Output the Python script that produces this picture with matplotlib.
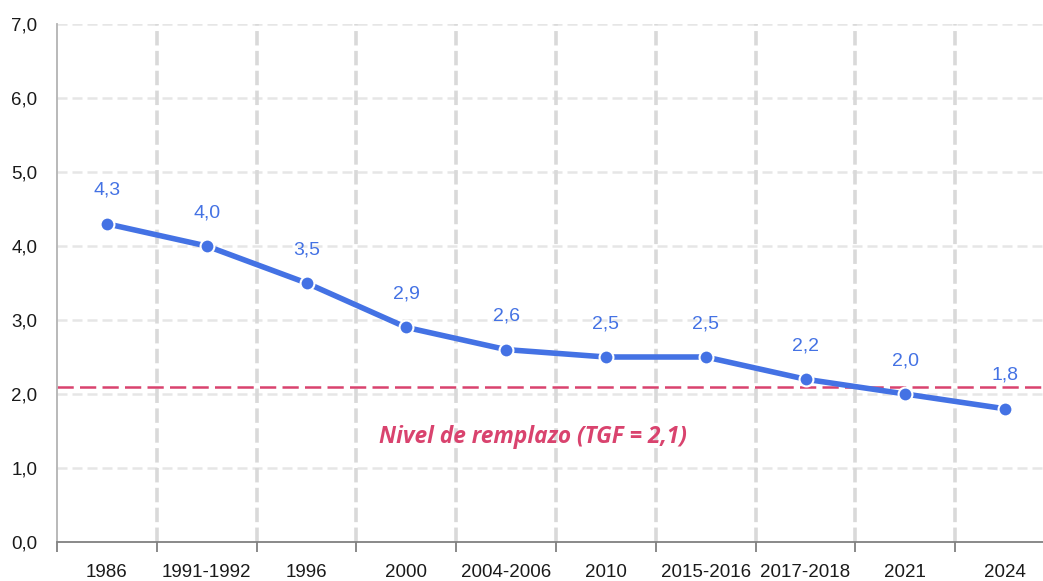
import matplotlib
matplotlib.use("Agg")
import matplotlib.pyplot as plt
import numpy as np

# data
periodos = ["1986", "1991-1992", "1996", "2000", "2004-2006", "2010",
            "2015-2016", "2017-2018", "2021", "2024"]
tgf = [4.3, 4.0, 3.5, 2.9, 2.6, 2.5, 2.5, 2.2, 2.0, 1.8]
nivel_remplazo = 2.1
y_ticks = [0, 1, 2, 3, 4, 5, 6, 7]

azul = "#4472e4"
rojo = "#d9436e"
gris = "#d9d9d9"

plt.rcParams["font.family"] = ["Liberation Sans", "DejaVu Sans"]

fig = plt.figure(figsize=(10.43, 5.81), dpi=100)
ax = fig.add_axes([57 / 1043, 1 - 542 / 581, 998 / 1043, 518 / 581])

x = np.arange(len(periodos))
ax.set_xlim(-0.5, len(periodos) - 0.5)
ax.set_ylim(0, 7)

# grid
for yv in y_ticks[1:]:
    ax.axhline(yv, color="#e6e6e6", lw=1.8, ls=(0, (4, 2)), zorder=0)
for b in np.arange(0.5, len(periodos) - 0.5, 1):
    ax.axvline(b, color=gris, lw=2.6, ls=(0, (4, 1.5)), zorder=0)

# reference line
ax.axhline(nivel_remplazo, color=rojo, lw=1.8, ls=(0, (6.5, 2.5)), zorder=2)
ax.text(4.27, 1.42, "Nivel de remplazo (TGF = 2,1)", color=rojo,
        fontsize=16.3, fontweight="bold", style="italic",
        ha="center", va="center", family=["Open Sans", "DejaVu Sans"])

# series
ax.plot(x, tgf, color=azul, lw=4, marker="o", ms=10, mfc=azul,
        mec="white", mew=1.5, solid_capstyle="round", zorder=4)

for xi, v in zip(x, tgf):
    ax.annotate(f"{v:.1f}".replace(".", ","), (xi, v), xytext=(0, 24),
                textcoords="offset points", ha="center", va="center",
                color=azul, fontsize=14)

# axes styling
ax.set_yticks(y_ticks)
ax.set_yticklabels([f"{v:.1f}".replace(".", ",") for v in y_ticks],
                   fontsize=13.5, color="#1a1a1a")
ax.tick_params(axis="y", length=0, pad=14)
ax.set_xticks(np.arange(-0.5, len(periodos), 1))
ax.set_xticklabels([])
ax.set_xticks(x, minor=True)
ax.set_xticklabels(periodos, minor=True, fontsize=13.5, color="#1a1a1a")
ax.tick_params(axis="x", which="major", length=7, color="#808080", width=1.3)
ax.tick_params(axis="x", which="minor", length=0, pad=16)

for s in ["top", "right"]:
    ax.spines[s].set_visible(False)
ax.spines["left"].set_color("#b3b3b3")
ax.spines["left"].set_linewidth(1.3)
ax.spines["bottom"].set_color("#808080")
ax.spines["bottom"].set_linewidth(1.3)

fig.savefig("out.png", dpi=100)
